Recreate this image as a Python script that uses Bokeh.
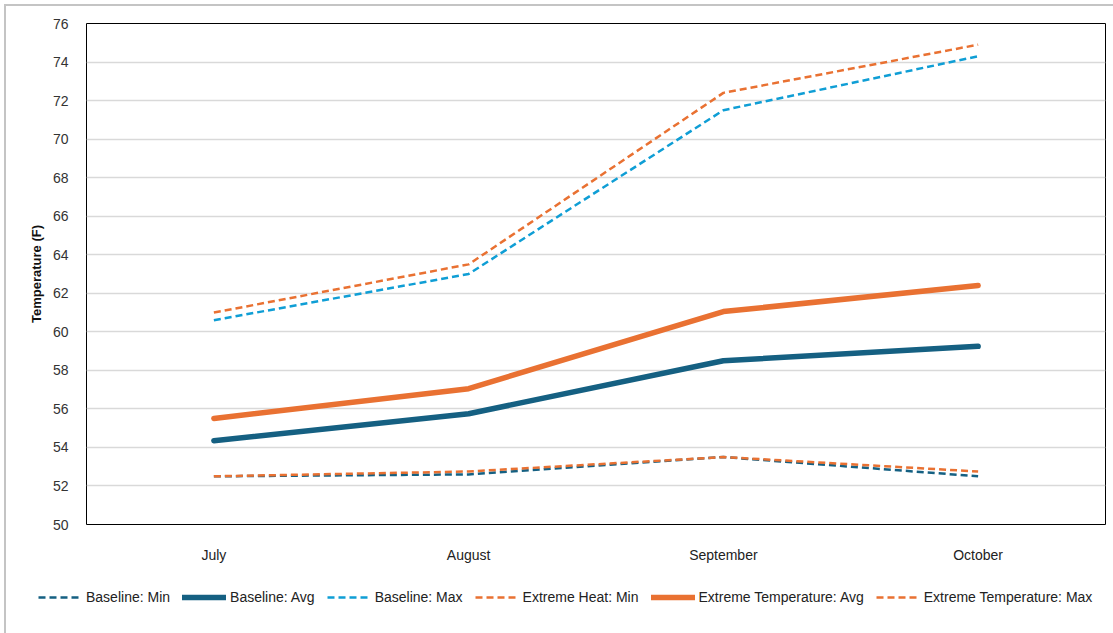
from bokeh.plotting import figure
from bokeh.layouts import column, row
from bokeh.models import Legend, LegendItem, FixedTicker, Range1d, FactorRange
from bokeh.embed import file_html
from bokeh.resources import INLINE

months = ["July", "August", "September", "October"]

baseline_min = [52.5, 52.6, 53.5, 52.5]
baseline_avg = [54.35, 55.75, 58.5, 59.25]
baseline_max = [60.6, 63.0, 71.5, 74.3]
extreme_min = [52.5, 52.75, 53.5, 52.75]
extreme_avg = [55.5, 57.05, 61.05, 62.4]
extreme_max = [61.0, 63.5, 72.4, 74.9]

y_ticks = list(range(50, 77, 2))

DARK_BLUE = "#156082"
LIGHT_BLUE = "#0f9ed5"
ORANGE = "#e97132"
DASH = "7 4"

series = [
    ("Baseline: Min", baseline_min, DARK_BLUE, 2.5, DASH),
    ("Baseline: Avg", baseline_avg, DARK_BLUE, 5.5, "solid"),
    ("Baseline: Max", baseline_max, LIGHT_BLUE, 2.5, DASH),
    ("Extreme Heat: Min", extreme_min, ORANGE, 2.5, DASH),
    ("Extreme Temperature: Avg", extreme_avg, ORANGE, 5.5, "solid"),
    ("Extreme Temperature: Max", extreme_max, ORANGE, 2.5, DASH),
]


def add_lines(fig):
    renderers = []
    for label, ys, color, width, dash in series:
        r = fig.line(months, ys, line_color=color, line_width=width, line_dash=dash,
                     line_cap="round" if dash == "solid" else "butt",
                     line_join="round")
        renderers.append((label, r))
    return renderers


# main chart
p = figure(
    x_range=FactorRange(*months, range_padding=0),
    y_range=Range1d(50, 76),
    width=1107, height=560,
    output_backend="svg", toolbar_location=None,
    min_border_left=80, min_border_right=8,
    min_border_top=17, min_border_bottom=42,
)
p.outline_line_color = "black"
p.outline_line_width = 1
p.xgrid.grid_line_color = None
p.ygrid.grid_line_color = "#d9d9d9"
p.ygrid.grid_line_width = 1.5

p.yaxis.ticker = FixedTicker(ticks=y_ticks)
p.yaxis.axis_line_color = None
p.yaxis.major_tick_line_color = None
p.yaxis.minor_tick_line_color = None
p.yaxis.major_label_text_font = "Liberation Sans"
p.yaxis.major_label_text_font_size = "14px"
p.yaxis.major_label_text_color = "#333333"
p.yaxis.major_label_standoff = 12
p.yaxis.axis_label = "Temperature (F)"
p.yaxis.axis_label_text_font = "Liberation Sans"
p.yaxis.axis_label_text_font_style = "bold"
p.yaxis.axis_label_text_font_size = "13px"
p.yaxis.axis_label_text_color = "#111111"
p.yaxis.axis_label_standoff = 6

p.xaxis.axis_line_color = None
p.xaxis.major_tick_line_color = None
p.xaxis.minor_tick_line_color = None
p.xaxis.major_label_text_font = "Liberation Sans"
p.xaxis.major_label_text_font_size = "14px"
p.xaxis.major_label_text_color = "#222222"
p.xaxis.major_label_standoff = 16

add_lines(p)

# legend strip under the chart; its lines sit outside the visible y range
leg = figure(
    x_range=FactorRange(*months, range_padding=0), y_range=Range1d(1000, 1001),
    width=1107, height=67,
    output_backend="svg", toolbar_location=None,
    x_axis_location=None, y_axis_location=None,
    min_border=0,
)
leg.grid.visible = False
leg.outline_line_color = None
leg_renderers = add_lines(leg)

legend = Legend(
    items=[LegendItem(label=lab, renderers=[r]) for lab, r in leg_renderers],
    orientation="horizontal",
    location=(32, 28),
    glyph_width=44, glyph_height=14,
    label_standoff=4, spacing=12,
    label_text_font="Liberation Sans", label_text_font_size="14px",
    label_text_color="#222222",
    border_line_color=None, background_fill_alpha=0,
    padding=0, margin=0,
)
leg.add_layout(legend)

layout = column(p, row(leg), spacing=0)
layout.styles = {
    "margin-left": "4px", "margin-top": "4px",
    "border-left": "2px solid #c4c4c4", "border-top": "2px solid #c4c4c4",
}

open("out.html", "w").write(file_html(layout, INLINE))
